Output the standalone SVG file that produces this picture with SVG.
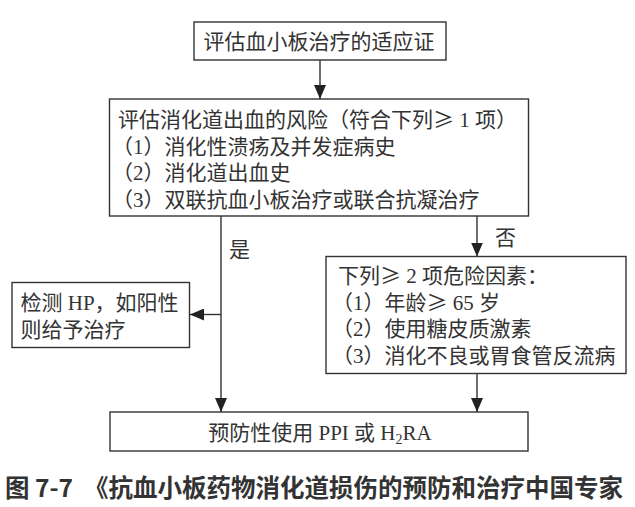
<svg xmlns="http://www.w3.org/2000/svg" width="635" height="507" viewBox="0 0 635 507">
<style>
.box{fill:#fff;stroke:#333;stroke-width:1.4}
.t{font-family:"Liberation Serif","Noto Sans CJK SC",serif;font-size:21px;fill:#333}
.g{font-family:"Noto Sans CJK SC",sans-serif}
.ln{stroke:#333;stroke-width:1.4;fill:none}
.cap{font-family:"Noto Sans CJK SC","Noto Sans",sans-serif;font-size:24.5px;font-weight:bold;fill:#333}
</style>
<defs>
<marker id="ah" viewBox="0 0 14 12" refX="14" refY="6" markerWidth="14" markerHeight="12" markerUnits="userSpaceOnUse" orient="auto">
<path d="M0,0 L14,6 L0,12 Z" fill="#222"/>
</marker>
</defs>
<rect width="635" height="507" fill="#fff"/>
<g id="connectors">
<line class="ln" x1="320" y1="60" x2="320" y2="99" marker-end="url(#ah)"/>
<line class="ln" x1="477" y1="216" x2="477" y2="256.5" marker-end="url(#ah)"/>
<line class="ln" x1="221" y1="216" x2="221" y2="412" marker-end="url(#ah)"/>
<line class="ln" x1="221" y1="314.5" x2="190" y2="314.5" marker-end="url(#ah)"/>
<line class="ln" x1="477" y1="373" x2="477" y2="412" marker-end="url(#ah)"/>
<text class="t" x="229" y="256.5">是</text>
<text class="t" x="495" y="245">否</text>
</g>
<g id="n1">
<rect class="box" x="194" y="22" width="252" height="38"/>
<text class="t" x="319" y="49" text-anchor="middle">评估血小板治疗的适应证</text>
</g>
<g id="n2">
<rect class="box" x="109.5" y="99" width="419" height="117"/>
<text class="t" x="118" y="127">评估消化道出血的风险（符合下列<tspan class="g">≥</tspan> 1 项）</text>
<text class="t" x="112" y="153.5">（1）消化性溃疡及并发症病史</text>
<text class="t" x="112" y="179.5">（2）消化道出血史</text>
<text class="t" x="112" y="206.5">（3）双联抗血小板治疗或联合抗凝治疗</text>
</g>
<g id="n3">
<rect class="box" x="12" y="282.5" width="177.5" height="65"/>
<text class="t" x="20.5" y="310">检测 HP，如阳性</text>
<text class="t" x="20.5" y="337">则给予治疗</text>
</g>
<g id="n4">
<rect class="box" x="326" y="256.5" width="300" height="117"/>
<text class="t" x="338" y="283">下列<tspan class="g">≥</tspan> 2 项危险因素：</text>
<text class="t" x="332" y="309.5">（1）年龄<tspan class="g">≥</tspan> 65 岁</text>
<text class="t" x="332" y="336">（2）使用糖皮质激素</text>
<text class="t" x="332" y="362.5">（3）消化不良或胃食管反流病</text>
</g>
<g id="n5">
<rect class="box" x="110" y="412" width="418" height="39"/>
<text class="t" x="320" y="440" text-anchor="middle">预防性使用 PPI 或 H<tspan font-size="14" baseline-shift="-4">2</tspan>RA</text>
</g>
<text class="cap" y="497"><tspan x="5">图 7-7</tspan><tspan x="84">《抗血小板药物消化道损伤的预防和治疗中国专家</tspan></text>
</svg>
